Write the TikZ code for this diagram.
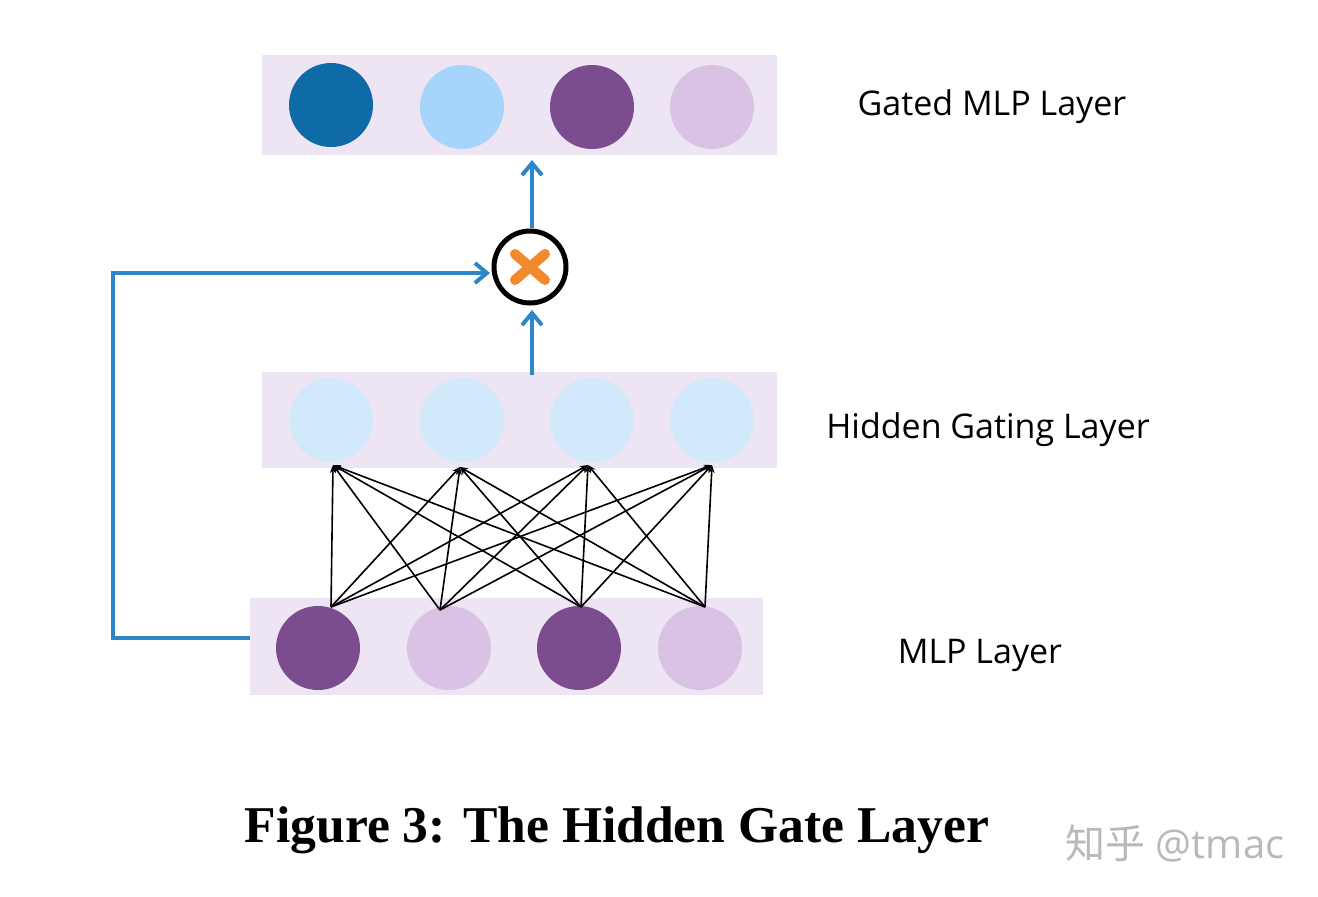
\documentclass[tikz,border=0pt]{standalone}
\usepackage{fontspec}
\setmainfont{Liberation Serif}
\newfontfamily\sansf{Open Sans}
\newfontfamily\cjk{Noto Sans CJK SC}
\usetikzlibrary{arrows.meta}
\definecolor{lav}{HTML}{EEE5F4}
\definecolor{dblue}{HTML}{0E6BA8}
\definecolor{lblue}{HTML}{A6D4FA}
\definecolor{pblue}{HTML}{D2E9FB}
\definecolor{dpur}{HTML}{7B4C8E}
\definecolor{lpur}{HTML}{D9C2E3}
\definecolor{arr}{HTML}{2E86C8}
\definecolor{org}{HTML}{F08A2C}
\begin{document}
\begin{tikzpicture}[x=0.5pt,y=-0.5pt,
  band/.style={fill=lav,draw=none},
  unit/.style={circle,minimum size=42pt,inner sep=0pt,draw=none},
  flow/.style={arr,line width=2pt,-{Straight Barb[length=6pt,width=10pt]}},
  edge/.style={black,line width=0.8pt,-{Stealth[length=4pt,width=3pt]}},
  lab/.style={font=\sansf\fontsize{17}{20}\selectfont}]
\useasboundingbox (0,0) rectangle (1318,896);
\fill[white] (0,0) rectangle (1318,896);
\fill[band] (262,55) rectangle (777,155);
\fill[band] (262,372) rectangle (777,468);
\fill[band] (250,598) rectangle (763,695);
\node[unit,fill=dblue] (g1) at (331,105) {};
\node[unit,fill=lblue] (g2) at (462,107) {};
\node[unit,fill=dpur] (g3) at (592,107) {};
\node[unit,fill=lpur] (g4) at (712,107) {};
\node[unit,fill=pblue] (h1) at (331,420) {};
\node[unit,fill=pblue] (h2) at (462,420) {};
\node[unit,fill=pblue] (h3) at (592,420) {};
\node[unit,fill=pblue] (h4) at (712,420) {};
\node[unit,fill=dpur] (m1) at (318,648) {};
\node[unit,fill=lpur] (m2) at (449,648) {};
\node[unit,fill=dpur] (m3) at (579,648) {};
\node[unit,fill=lpur] (m4) at (700,648) {};
\coordinate (b1) at (331,607); \coordinate (b2) at (440,610);
\coordinate (b3) at (581,607); \coordinate (b4) at (705,607);
\coordinate (t1) at (333,465); \coordinate (t2) at (460,467);
\coordinate (t3) at (588,465); \coordinate (t4) at (712,465);
\foreach \i in {1,...,4}{\foreach \j in {1,...,4}{\draw[edge] (b\i) -- (t\j);}}
\node[circle,draw=black,line width=2.5pt,fill=white,minimum size=36pt,inner sep=0pt] (x) at (530,267) {};
\draw[org,line width=5pt,line cap=round] (515,254) -- (545,280) (515,280) -- (545,254);
\coordinate (hs) at (532,375); \coordinate (xb) at (532,310);
\coordinate (xt) at (532,228); \coordinate (gb) at (532,160);
\draw[flow] (hs) -- (xb);
\draw[flow] (xt) -- (gb);
\coordinate (ms) at (250,638); \coordinate (c1) at (113,638);
\coordinate (c2) at (113,273); \coordinate (xl) at (490,273);
\draw[flow] (ms) -- (c1) -- (c2) -- (xl);
\node[lab] (lg) at (992,107) {Gated MLP Layer};
\node[lab] (lh) at (988,430) {Hidden Gating Layer};
\node[lab] (lm) at (980,655) {MLP Layer};
\node[font=\bfseries\fontsize{25.8}{30}\selectfont] (cap) at (617,830) {Figure 3: The Hidden Gate Layer};
\node[font=\fontsize{20}{24}\selectfont,text=gray!55] (wm) at (1175,843) {{\cjk 知乎} {\sansf @tmac}};
\end{tikzpicture}
\end{document}
